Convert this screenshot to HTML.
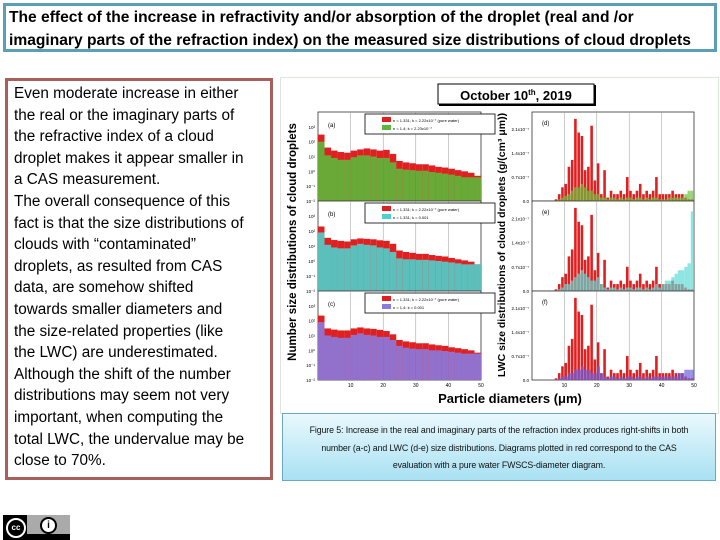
<!DOCTYPE html>
<html><head><meta charset="utf-8"><style>
body{margin:0;width:720px;height:540px;background:#fff;position:relative;overflow:hidden;font-family:"Liberation Sans",sans-serif}
#title{position:absolute;left:3px;top:3px;width:702px;height:43px;border:3px solid #5a9fb4;padding:0 3px}
#title div{font-weight:bold;font-size:15.6px;line-height:23px;white-space:nowrap;color:#000}
#textbox{position:absolute;left:5px;top:78px;width:262px;height:396px;border:3px solid #a8605c;padding:0}
#textbox div{font-size:15.3px;line-height:21.6px;white-space:nowrap;padding-left:6px;color:#000}
#chartimg{position:absolute;left:280px;top:77px;width:437px;height:335px;border:1px solid #dde5dd;background:#fff}
#caption{position:absolute;left:282px;top:413px;width:432px;height:66px;border:1px solid #6aa8bd;background:linear-gradient(#e9f8fd,#a9e1f3);text-align:center}
#caption div{font-size:8.8px;line-height:17.5px;color:#111;white-space:nowrap;letter-spacing:-0.1px}
#cc{position:absolute;left:3px;top:515px;width:67px;height:25px;background:#aaa}
</style></head><body>
<div id="title">
<div>The effect of the increase in refractivity and/or absorption of the droplet (real and /or</div>
<div>imaginary parts of the refraction index) on the measured size distributions of cloud droplets</div>
</div>
<div id="textbox">
<div style="margin-top:2px">Even moderate increase in either</div>
<div>the real or the imaginary parts of</div>
<div>the refractive index of a cloud</div>
<div>droplet makes it appear smaller in</div>
<div>a CAS measurement.</div>
<div>The overall consequence of this</div>
<div>fact is that the size distributions of</div>
<div>clouds with “contaminated”</div>
<div>droplets, as resulted from CAS</div>
<div>data, are somehow shifted</div>
<div>towards smaller diameters and</div>
<div>the size-related properties (like</div>
<div>the LWC) are underestimated.</div>
<div>Although the shift of the number</div>
<div>distributions may seem not very</div>
<div>important, when computing the</div>
<div>total LWC, the undervalue may be</div>
<div>close to 70%.</div>
</div>
<div id="chartimg"></div>
<svg id="chart" width="720" height="540" style="position:absolute;left:0;top:0">
<g id="marks"></g>
<rect x="438" y="84" width="156" height="20" fill="#fff" stroke="#000" stroke-width="1"/>
<line x1="595" y1="85" x2="595" y2="106" stroke="#000" stroke-width="2"/>
<line x1="439" y1="105" x2="595" y2="105" stroke="#000" stroke-width="2"/>
<text x="516" y="100" text-anchor="middle" font-size="13" font-weight="bold">October 10<tspan font-size="8" dy="-5">th</tspan><tspan dy="5">, 2019</tspan></text>
<text x="510" y="403" text-anchor="middle" font-size="13" font-weight="bold">Particle diameters (μm)</text>
<text transform="translate(296,242) rotate(-90)" text-anchor="middle" font-size="11.5" font-weight="bold">Number size distributions of cloud droplets</text>
<text transform="translate(505,245) rotate(-90)" text-anchor="middle" font-size="10.5" font-weight="bold">LWC size distributions of cloud droplets (g/(cm³ μm))</text>
</svg>
<div id="caption">
<div style="margin-top:8px">Figure 5: Increase in the real and imaginary parts of the refraction index produces right-shifts in both</div>
<div>number (a-c) and LWC (d-e) size distributions. Diagrams plotted in red correspond to the CAS</div>
<div>evaluation with a pure water FWSCS-diameter diagram.</div>
</div>
<div id="cc">
<div style="position:absolute;left:0;top:0;width:24px;height:25px;background:#000"></div>
<div style="position:absolute;left:3px;top:3px;width:16px;height:16px;border:2px solid #fff;border-radius:50%;color:#fff;font-size:8px;font-weight:bold;text-align:center;line-height:16px">cc</div>
<div style="position:absolute;left:37px;top:2px;width:13px;height:13px;border:2px solid #000;border-radius:50%;background:#fff;font-size:10px;font-weight:bold;text-align:center;line-height:13px">i</div>
<div style="position:absolute;left:24px;top:19px;width:43px;height:6px;background:#000"></div>
</div>
<script>
// Number distributions (left, log scale), 2 µm bins from 0 to 50
const numBins = [1,3,5,7,9,11,13,15,17,19,21,23,25,27,29,31,33,35,37,39,41,43,45,47,49];
const redA = [300,40,25,20,18,25,30,35,30,25,28,15,5,4,3.5,3,3,2.5,2,1.8,1.5,1.2,1,0.8,0.5];
const greenA = [100,12,8,6,6,9,12,12,10,8,8,4,1.5,1.3,1.2,1.1,1.1,0.9,0.8,0.7,0.6,0.5,0.4,0.4,0.4];
const redB = [200,35,25,22,20,28,32,30,28,24,22,14,5,4,3.5,3,3,2.5,2.2,2,1.6,1.3,1.1,0.9,0.6];
const cyanB = [80,12,8,7,7,11,14,12,11,8,7,4,1.5,1.3,1.3,1.2,1.2,1.1,1.0,0.9,0.8,0.7,0.6,0.6,0.6];
const redC = [220,30,25,22,22,30,35,30,28,24,20,12,5,4,3.5,3,3,2.5,2.2,2,1.6,1.4,1.2,1,0.7];
const blueC = [80,10,8,7,7,11,14,11,10,8,8,5,2,1.5,1.3,1.2,1.2,1.0,1.0,0.9,0.8,0.7,0.6,0.6,0.6];
const numTicks = ['10⁻²','10⁻¹','10⁰','10¹','10²','10³'];
// LWC distributions (right, linear), 1 µm bins
const lwcBins = Array.from({length:50},(_,i)=>i+1);
const redD = [0,0,0,0,0,0,0,0.05,0.2,0.4,0.5,1.0,1.2,2.4,2.0,1.9,0.9,1.0,2.2,0.6,1.1,0.2,0.9,0.1,0.3,0.2,0.2,0.3,0.2,0.7,0.3,0.2,0.3,0.5,0.2,0.3,0.2,0.3,0.7,0.2,0.2,0.2,0.2,0.3,0.2,0.2,0.2,0.1,0.05,0.05];
const greenD = [0,0,0,0,0,0,0,0.02,0.05,0.1,0.15,0.2,0.3,0.4,0.4,0.5,0.4,0.3,0.3,0.2,0.2,0.1,0.1,0.05,0.1,0.1,0.05,0.1,0.05,0.1,0.1,0.05,0.1,0.1,0.05,0.1,0.05,0.1,0.1,0.05,0.05,0.05,0.1,0.1,0.1,0.1,0.1,0.2,0.3,0.3];
const cyanE = [0,0,0,0,0,0,0,0.02,0.05,0.1,0.2,0.2,0.3,0.4,0.5,0.6,0.5,0.4,0.3,0.3,0.4,0.2,0.1,0.05,0.1,0.1,0.05,0.1,0.05,0.1,0.1,0.05,0.1,0.1,0.05,0.1,0.05,0.1,0.2,0.1,0.2,0.3,0.3,0.4,0.5,0.6,0.6,0.7,0.8,2.3];
const blueF = [0,0,0,0,0,0,0,0.02,0.05,0.1,0.1,0.2,0.2,0.3,0.3,0.4,0.3,0.3,0.2,0.2,0.4,0.2,0.1,0.05,0.1,0.1,0.05,0.1,0.05,0.1,0.1,0.05,0.1,0.1,0.05,0.1,0.05,0.1,0.1,0.1,0.1,0.1,0.1,0.1,0.1,0.2,0.2,0.3,0.3,0.3];
const lwcTicks = [0,0.7,1.4,2.1];
const xTicks = [10,20,30,40,50];

const NS='http://www.w3.org/2000/svg';
const g=document.getElementById('marks');
function el(t,a){const e=document.createElementNS(NS,t);for(const k in a)e.setAttribute(k,a[k]);g.appendChild(e);return e;}
const L={x0:318,x1:481}, R={x0:532,x1:694};
const rows=[[112,201],[201,291],[291,380]];
function xs(p,d){return p.x0+(d/50)*(p.x1-p.x0);}
const LO=-2,HI=4;
function ylog(r,v){let f=(Math.log10(Math.max(v,0.01))-LO)/(HI-LO);return r[1]-f*(r[1]-r[0]);}
function ylin(r,v){return r[1]-(v/2.6)*(r[1]-r[0]);}
const leftSeries=[[redA,greenA,'#5cb83a','a'],[redB,cyanB,'#4fd0cc','b'],[redC,blueC,'#8a7ae0','c']];
const rightSeries=[[greenD,'#6ac23a','d'],[cyanE,'#60dad6','e'],[blueF,'#6a5ee0','f']];
rows.forEach((r,i)=>{
 [L,R].forEach((p,j)=>{
  const fr=el('rect',{x:p.x0,y:r[0],width:p.x1-p.x0,height:r[1]-r[0],fill:'#fff',stroke:'#333','stroke-width':0.8});
  
  
  xTicks.slice(0,4).forEach(t=>{const gl=el('line',{x1:xs(p,t),x2:xs(p,t),y1:r[0],y2:r[1],stroke:'#999','stroke-width':0.5});
   });
 });
 const [rd,ot,col,lab]=leftSeries[i];
 const bw=(L.x1-L.x0)/25;
 numBins.forEach((d,k)=>{
  const b1=el('rect',{x:xs(L,d-1),y:ylog(r,rd[k]),width:bw,height:r[1]-ylog(r,rd[k]),fill:'#e02020'});
  
  const b2=el('rect',{x:xs(L,d-1),y:ylog(r,ot[k]),width:bw,height:r[1]-ylog(r,ot[k]),fill:col,opacity:0.9});
  
 });
 numTicks.forEach((t,k)=>{const y=r[1]-(k/6)*(r[1]-r[0]);const tx=el('text',{x:L.x0-3,y:y+2,'font-size':4.5,'text-anchor':'end'});tx.textContent=t;
  });
 const pl=el('text',{x:L.x0+10,y:r[0]+15,'font-size':6});pl.textContent='('+lab+')';
 
 const lg=el('rect',{x:365,y:r[0]+2,width:130,height:20,fill:'#fff',stroke:'#000','stroke-width':0.8});
 
 el('rect',{x:382,y:r[0]+5,width:9,height:5,fill:'#e02020'});
 el('rect',{x:382,y:r[0]+13,width:9,height:5,fill:col});
 const t1=el('text',{x:393,y:r[0]+10,'font-size':4});t1.textContent='n = 1.331; k = 2.22x10⁻⁷ (pure water)';
 
 const t2=el('text',{x:393,y:r[0]+18,'font-size':4});t2.textContent=i==0?'n = 1.4; k = 2.23x10⁻⁷':(i==1?'n = 1.331; k = 0.001':'n = 1.4; k = 0.001');
 
 const [oth,c2,lb2]=rightSeries[i];
 const bw2=(R.x1-R.x0)/50;
 lwcBins.forEach((d,k)=>{
  const b1=el('rect',{x:xs(R,d-1),y:ylin(r,redD[k]),width:bw2*0.8,height:r[1]-ylin(r,redD[k]),fill:'#e02020'});
  
  const b2=el('rect',{x:xs(R,d-1),y:ylin(r,oth[k]),width:bw2,height:r[1]-ylin(r,oth[k]),fill:c2,opacity:0.7});
  
 });
 lwcTicks.forEach(t=>{const tx=el('text',{x:R.x0-3,y:ylin(r,t)+2,'font-size':4.5,'text-anchor':'end'});tx.textContent=t==0?'0.0':t.toFixed(1)+'x10⁻⁷';
  });
 const pr=el('text',{x:R.x0+10,y:r[0]+13,'font-size':6});pr.textContent='('+lb2+')';
 
});
[L,R].forEach(p=>xTicks.forEach(t=>{const tx=el('text',{x:xs(p,t),y:387,'font-size':5,'text-anchor':'middle'});tx.textContent=t;
 }));
</script>
</body></html>
